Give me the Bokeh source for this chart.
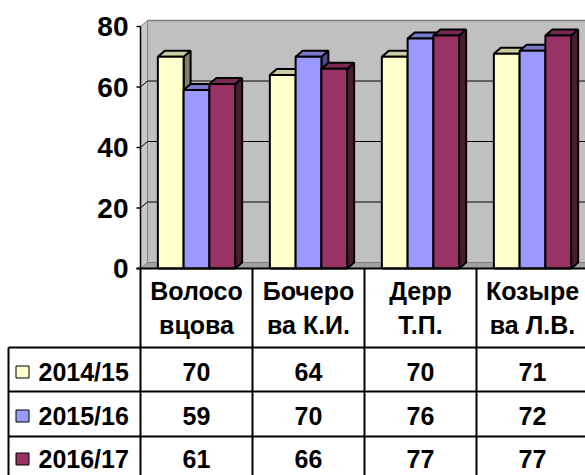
from bokeh.plotting import figure
from bokeh.models import Range1d
from bokeh.core.properties import value
from bokeh.embed import file_html
from bokeh.resources import INLINE

# ---- data ----
categories = ["Волосо\nвцова", "Бочеро\nва К.И.", "Дерр\nТ.П.", "Козыре\nва Л.В."]
series = ["2014/15", "2015/16", "2016/17"]
v_2014 = [70, 64, 70, 71]
v_2015 = [59, 70, 76, 72]
v_2016 = [61, 66, 77, 77]
y_ticks = [0, 20, 40, 60, 80]

values = [v_2014, v_2015, v_2016]
face = ["#FFFFCC", "#9999FF", "#993366"]
topc = ["#CCCCA3", "#7A7ACC", "#7A2952"]
sidec = ["#808066", "#4D4D80", "#4D1A33"]

# ---- layout helpers (picture pixel -> data units) ----
UX, UY = 112.0, 3.025
def fx(px):
    return (px - 196.0) / UX
def fy(py):
    return (268.0 - py) / UY

DX = 7.0 / UX
DY = 6.0 / UY
W = 0.23
FONT = value("Liberation Sans")

x0, x1 = fx(0), fx(585)
p = figure(width=585, height=475, x_range=Range1d(x0, x1), y_range=Range1d(fy(475), fy(0)),
           output_backend="svg", toolbar_location=None, min_border=0,
           x_axis_type=None, y_axis_type=None)
p.grid.visible = False
p.outline_line_color = None
p.background_fill_color = "white"
p.border_fill_color = "white"

n = len(categories)
xl = -0.5
top = y_ticks[-1]
# back wall
p.quad(left=[xl + DX], right=[x1 + 1], bottom=[DY], top=[top + DY],
       fill_color="#C0C0C0", line_color=None)
# floor
p.patch([xl, x1 + 1, x1 + 1, xl + DX], [0, 0, DY, DY],
        fill_color="#A0A0A0", line_color="#808080", line_width=1)
# left wall strip
p.patch([xl, xl, xl + DX, xl + DX], [0, top, top + DY, DY],
        fill_color="#C8C8C8", line_color="#808080", line_width=1)
p.segment(x0=[xl + DX], y0=[top + DY], x1=[x1 + 1], y1=[top + DY], line_color="#808080", line_width=1.5)
# gridlines
g = y_ticks[1:-1]
p.segment(x0=[xl + DX] * len(g), y0=[v + DY for v in g], x1=[x1 + 1] * len(g), y1=[v + DY for v in g],
          line_color="black", line_width=1)
p.segment(x0=[xl] * len(g), y0=g, x1=[xl + DX] * len(g), y1=[v + DY for v in g],
          line_color="black", line_width=1)

# bars
for s in range(3):
    xs_side, ys_side, xs_top, ys_top, lefts, rights = [], [], [], [], [], []
    for i in range(n):
        v = values[s][i]
        l = i + (s - 1.5) * W
        r = l + W
        lefts.append(l); rights.append(r)
        xs_side.append([r, r, r + DX, r + DX]); ys_side.append([0, v, v + DY, DY])
        xs_top.append([l, r, r + DX, l + DX]); ys_top.append([v, v, v + DY, v + DY])
    p.patches(xs_side, ys_side, fill_color=sidec[s], line_color="black", line_width=2)
    p.patches(xs_top, ys_top, fill_color=topc[s], line_color="black", line_width=2)
    p.quad(left=lefts, right=rights, bottom=[0] * n, top=values[s],
           fill_color=face[s], line_color="black", line_width=2)

# y axis: line, ticks, labels
p.segment(x0=[xl], y0=[0], x1=[xl], y1=[top], line_color="black", line_width=1.5)
p.segment(x0=[fx(136)] * len(y_ticks), y0=y_ticks, x1=[xl] * len(y_ticks), y1=y_ticks,
          line_color="black", line_width=1.5)
p.text(x=[fx(128)] * len(y_ticks), y=y_ticks, text=[str(v) for v in y_ticks],
       text_align="right", text_baseline="middle", text_font=FONT, text_font_style="bold",
       text_font_size="28px", text_color="black")

# ---- data table ----
row_b = [fy(347), fy(391), fy(436), fy(480)]
cols = [xl + k for k in range(n + 1)]
p.segment(x0=[fx(136)], y0=[0], x1=[x1 + 1], y1=[0], line_color="black", line_width=2)
p.segment(x0=cols, y0=[0] * len(cols), x1=cols, y1=[row_b[-1]] * len(cols), line_color="black", line_width=2)
p.segment(x0=[fx(8)] * 3, y0=row_b[:3], x1=[x1 + 1] * 3, y1=row_b[:3], line_color="black", line_width=2)
p.segment(x0=[fx(8)], y0=[row_b[0]], x1=[fx(8)], y1=[row_b[-1]], line_color="black", line_width=2)

line1 = [c.split("\n")[0] for c in categories]
line2 = [c.split("\n")[1] for c in categories]
cx = list(range(n))
p.text(x=cx, y=[fy(290.5)] * n, text=line1, text_align="center", text_baseline="middle",
       text_font=FONT, text_font_style="bold", text_font_size="25px", text_color="black")
p.text(x=cx, y=[fy(324)] * n, text=line2, text_align="center", text_baseline="middle",
       text_font=FONT, text_font_style="bold", text_font_size="25px", text_color="black")

mid = [fy(371.5), fy(415.5), fy(458.5)]
for s in range(3):
    p.text(x=cx, y=[mid[s]] * n, text=[str(v) for v in values[s]], text_align="center",
           text_baseline="middle", text_font=FONT, text_font_style="bold",
           text_font_size="25px", text_color="black")
p.rect(x=[fx(22)] * 3, y=mid, width=13, height=12,
       width_units="screen", height_units="screen", fill_color=face, line_color="black", line_width=1)
p.text(x=[fx(38)] * 3, y=mid, text=series, text_align="left", text_baseline="middle",
       text_font=FONT, text_font_style="bold", text_font_size="25px", text_color="black")

open("out.html", "w").write(file_html(p, INLINE))
